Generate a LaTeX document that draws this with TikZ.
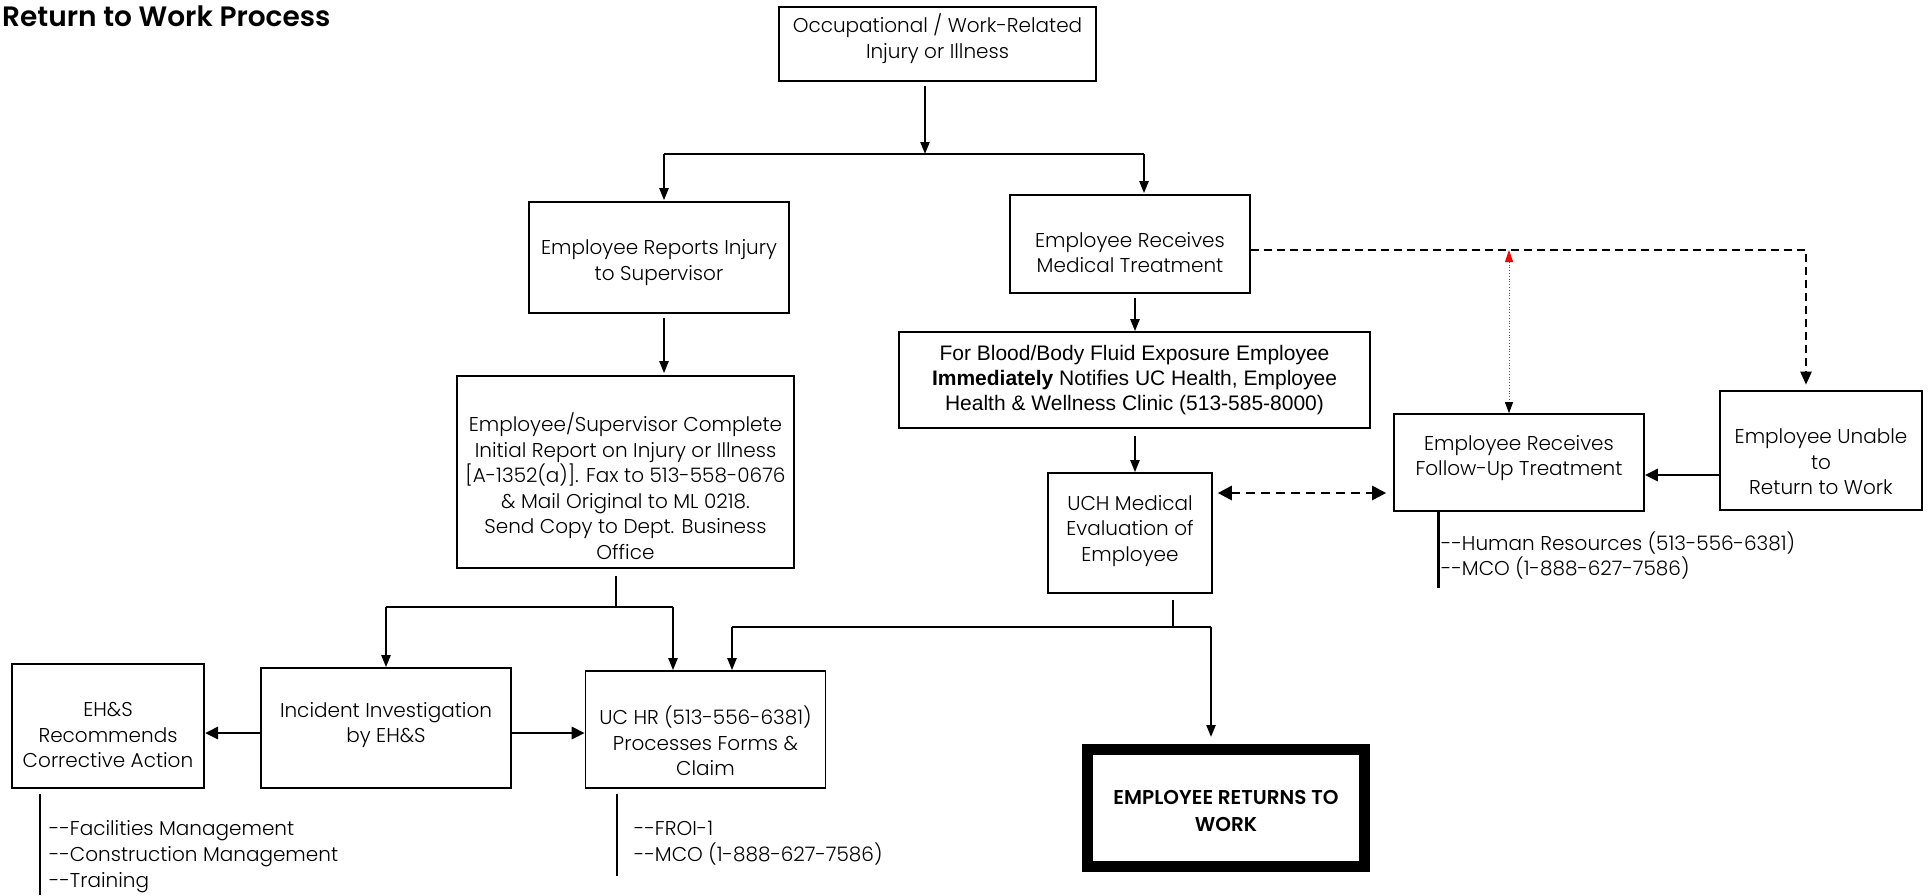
\documentclass[tikz,border=0pt]{standalone}
\usepackage{fontspec}
\setmainfont{Poppins}[UprightFont={* Light}, BoldFont={* SemiBold}]
\newfontfamily\arialf{Liberation Sans}
\usetikzlibrary{arrows.meta,calc}
\begin{document}
\begin{tikzpicture}[x=1pt,y=-1pt,
  box/.style={draw=black, line width=1.6pt, inner sep=0pt, fill=white},
  lbl/.style={align=center, inner sep=0pt, font=\fontsize{20}{25.5}\selectfont},
  side/.style={align=left, inner sep=0pt, anchor=west, font=\fontsize{20}{26}\selectfont},
  conn/.style={line width=2.2pt},
  arr/.style={line width=2.2pt, -{Triangle[length=12pt,width=9pt]}},
  harr/.style={line width=2.8pt, -{Triangle[length=13pt,width=12pt]}},
  dashln/.style={line width=2.2pt, dash pattern=on 8pt off 5pt, -{Triangle[length=13pt,width=11pt]}},
  dblarr/.style={line width=2.8pt, dash pattern=on 9pt off 6pt, {Triangle[length=14pt,width=14pt]}-{Triangle[length=14pt,width=14pt]}},
  dotln/.style={line width=0.8pt, dotted, draw=gray!70!black, {Triangle[length=12pt,width=8pt,red,fill=red]}-{Triangle[length=11pt,width=8pt,black,fill=black]}}
]
\useasboundingbox (0,0) rectangle (1931,895);
\fill[white] (0,0) rectangle (1931,895);

\node[anchor=west, inner sep=0pt, font=\bfseries\fontsize{28}{32}\selectfont] (title) at (2,16) {Return to Work Process};

% boxes
\node[box, minimum width=317pt, minimum height=74pt,
  label={[lbl, yshift=5.5pt]center:Occupational / Work-Related\\Injury or Illness}] (top) at (937.5,44) {};
\node[box, minimum width=260pt, minimum height=111pt,
  label={[lbl, yshift=-5pt]center:Employee Reports Injury\\to Supervisor}] (rep) at (659,257.5) {};
\node[box, minimum width=240pt, minimum height=98pt,
  label={[lbl, yshift=-8.5pt]center:Employee Receives\\Medical Treatment}] (med) at (1130,244) {};
\node[box, minimum width=337pt, minimum height=192pt,
  label={[lbl, yshift=-14pt]center:Employee/Supervisor Complete\\Initial Report on Injury or Illness\\{[}A-1352(a){]}. Fax to 513-558-0676\\\& Mail Original to ML 0218.\\Send Copy to Dept. Business\\Office}] (sup) at (625.5,472) {};
\node[box, minimum width=471pt, minimum height=96pt,
  label={[align=center, inner sep=0pt, font=\arialf\fontsize{21}{25}\selectfont]center:For Blood/Body Fluid Exposure Employee\\\textbf{Immediately} Notifies UC Health, Employee\\Health \& Wellness Clinic (513-585-8000)}] (blood) at (1134.5,380) {};
\node[box, minimum width=164pt, minimum height=120pt,
  label={[lbl, yshift=2pt]center:UCH Medical\\Evaluation of\\Employee}] (uch) at (1130,533) {};
\node[box, minimum width=250pt, minimum height=97pt,
  label={[lbl, yshift=4.5pt]center:Employee Receives\\Follow-Up Treatment}] (fu) at (1519,462.5) {};
\node[box, line width=2.6pt, minimum width=202pt, minimum height=119pt,
  label={[lbl, yshift=-11.5pt]center:Employee Unable\\to\\Return to Work}] (unable) at (1821,450.5) {};
\node[box, minimum width=192.5pt, minimum height=124pt,
  label={[lbl, yshift=-9pt]center:EH\&S\\Recommends\\Corrective Action}] (ehs) at (108,726) {};
\node[box, minimum width=250pt, minimum height=120pt,
  label={[lbl, yshift=3pt]center:Incident Investigation\\by EH\&S}] (inc) at (386,728) {};
\node[box, minimum width=240pt, minimum height=117pt,
  label={[lbl, yshift=-11.5pt]center:UC HR (513-556-6381)\\Processes Forms \&\\Claim}] (hr) at (705.5,729.5) {};
\node[box, line width=11pt, minimum width=277pt, minimum height=117pt,
  label={[align=center, inner sep=0pt, yshift=-3pt, font=\bfseries\fontsize{20}{27}\selectfont]center:EMPLOYEE RETURNS TO\\WORK}] (fin) at (1226,808) {};

% coordinates
\coordinate (split) at (925,154);
\coordinate (sL) at (664,154);
\coordinate (sR) at (1144,154);
\coordinate (mx) at (1135,0);
\coordinate (dR) at (1806,250);
\coordinate (rT) at (1509,250);
\coordinate (yU) at (0,475);
\coordinate (yD) at (0,493);
\coordinate (fuE) at (1438.5,588);
\coordinate (j1) at (616,607);
\coordinate (iL) at (386,607);
\coordinate (iR) at (673,607);
\coordinate (j2) at (1173,627);
\coordinate (hL) at (732,627);
\coordinate (hR) at (1211,627);
\coordinate (yI) at (0,733);
\coordinate (eE) at (40,895);
\coordinate (hE) at (617,876);

% connectors
\draw[arr, shorten <=4pt] (top.south -| split) -- (split);
\draw[conn] (sL) -- (sR);
\draw[arr, shorten >=1pt] (sL) -- (rep.north -| sL);
\draw[arr, shorten >=1pt] (sR) -- (med.north -| sR);
\draw[arr, shorten <=4pt, shorten >=2pt] (rep.south -| sL) -- (sup.north -| sL);
\draw[arr, shorten <=4pt] (med.south -| mx) -- (blood.north -| mx);
\draw[arr, shorten <=7pt] (blood.south -| mx) -- (uch.north -| mx);
\draw[dashln, shorten >=5pt] (med.east |- dR) -- (dR) -- (unable.north -| dR);
\draw[dotln] (rT) -- (fu.north -| rT);
\draw[harr] (unable.west |- yU) -- (fu.east |- yU);
\draw[dblarr, shorten <=5pt, shorten >=7pt] (uch.east |- yD) -- (fu.west |- yD);
\draw[conn] (fu.south -| fuE) -- (fuE);
\draw[conn, shorten <=7pt] (sup.south -| j1) -- (j1);
\draw[conn] (iL) -- (iR);
\draw[arr] (iL) -- (inc.north);
\draw[arr] (iR) -- (hr.north -| iR);
\draw[conn, shorten <=6pt] (uch.south -| j2) -- (j2);
\draw[conn] (hL) -- (hR);
\draw[arr] (hL) -- (hr.north -| hL);
\draw[arr, shorten >=7pt] (hR) -- (fin.north -| hR);
\draw[harr] (inc.west |- yI) -- (ehs.east |- yI);
\draw[harr] (inc.east |- yI) -- (hr.west |- yI);
\draw[conn, shorten <=5pt] (ehs.south -| eE) -- (eE);
\draw[conn, shorten <=5pt] (hr.south -| hE) -- (hE);

% side notes
\node[side] (ehsnote) at (49,857) {-{}-Facilities Management\\-{}-Construction Management\\-{}-Training};
\node[side] (hrnote) at (634,843.5) {-{}-FROI-1\\-{}-MCO (1-888-627-7586)};
\node[side, font=\fontsize{20}{25}\selectfont] (funote) at (1441,555.5) {-{}-Human Resources (513-556-6381)\\-{}-MCO (1-888-627-7586)};
\end{tikzpicture}
\end{document}
